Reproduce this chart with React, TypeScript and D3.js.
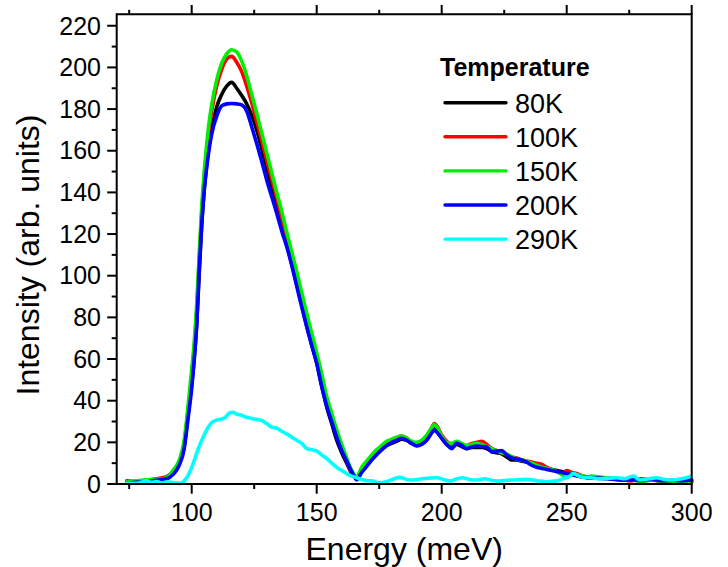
import React from "react";
import * as d3 from "d3";

const energy = [74, 78, 82, 86, 90, 92.5, 95, 97, 98.5, 100, 101, 102, 103, 104, 105, 106, 107, 108,
  110, 112, 114, 116, 118, 120, 122, 124, 126, 128, 130, 132, 134, 136, 138, 140, 142, 144, 146, 148, 150,
  152, 154, 156, 158, 160, 162, 164, 166, 168, 170, 172, 174, 176, 178, 180, 182, 184, 186, 188, 190, 192,
  194, 196, 197, 198, 200, 202, 204, 206, 208, 210, 212, 214, 216, 218, 220, 222, 224, 226, 228, 230, 232,
  234, 236, 238, 240, 242, 244, 246, 248, 250, 252, 254, 256, 258, 260, 264, 268, 272, 276, 280, 284, 288,
  292, 296, 300];

const k80 = [0.5, 1, 1.5, 2, 2.5, 5, 9.5, 18, 33, 48, 60, 77, 101, 124, 141, 153, 163, 170,
  181, 187, 191, 192.8, 190, 186.5, 182.5, 177, 170, 161, 151, 142, 133, 124, 115, 106, 96, 86, 76, 67, 58,
  47, 37, 29, 21, 15, 10, 5, 2.5, 6.5, 9.5, 12.5, 14.5, 16.5, 18.5, 19.5, 20.5, 21.5, 21, 19.5, 18.5, 19.5,
  21.5, 25, 26.5, 25.5, 22, 19, 17.5, 19, 18, 17, 17.5, 17.5, 17.5, 17, 15.5, 15, 14.5, 13, 11.5, 11.5, 11,
  10.5, 9.5, 9, 8, 7.5, 7, 6.5, 6, 5.5, 5, 4, 3.5, 3, 3, 3, 2.5, 2, 2, 1.5, 2, 1.5,
  1.5, 1, 1.2];

const k100 = [1.5, 1.2, 1.8, 2.5, 3.5, 6, 10.5, 19.5, 35, 52, 65, 83, 107, 130, 147, 160, 171, 179,
  191, 199, 204, 205.3, 202.5, 198, 191, 183, 174, 165, 155.5, 146.5, 137.5, 128, 118.5, 109, 99, 89, 79, 70, 61,
  50, 40, 32, 24, 17, 11, 5.5, 3, 7.5, 10.5, 13.5, 16, 18, 20, 21, 22, 23, 22, 20, 19.5, 20.5,
  23, 27, 29, 28, 23.5, 20.5, 19, 20, 19, 18.5, 19.5, 20, 20.5, 19, 17, 16, 15, 14, 13, 12.5, 11.5,
  11, 10.5, 10, 9.5, 8, 7, 6, 5, 6.5, 5.5, 5, 4, 3.5, 3.5, 3, 2.5, 2, 1.5, 2.5, 2, 1.5,
  1, 1.5, 1];

const k150 = [1, 1.5, 2, 2.2, 3, 6.5, 11.5, 21, 37, 55, 68, 86, 110, 133, 150, 163, 174, 182,
  194, 202, 206.5, 208.5, 207.5, 203, 196, 187, 178, 168.5, 159, 149.5, 140, 131, 121, 111.5, 102, 92, 82, 72.5, 63,
  53, 42, 34, 26, 19, 12.5, 6.5, 3.5, 8, 11, 14, 16.5, 18.5, 20.5, 21.5, 22.5, 23, 22, 20.5, 20, 21,
  23.5, 27, 28.5, 27.5, 23, 20, 19.5, 20.5, 19.5, 18.5, 19, 19.5, 19, 18, 17, 16, 15, 14.5, 13, 12, 11.5,
  10.8, 10, 9, 8, 7.5, 7, 6, 4.5, 3, 5, 4.5, 4, 3.5, 3.8, 3.2, 2.8, 2.5, 2, 1.5, 2, 1.5,
  1.5, 1, 1.5];

const k200 = [0.5, 0.8, 1.2, 1.8, 2.5, 4.5, 9, 17, 31, 46, 60, 76, 103, 125, 141, 152, 161, 168,
  176.5, 181.5, 182.5, 182.7, 182.5, 182, 179, 171.5, 163.5, 155, 146, 138, 130, 121.5, 114, 105, 95, 85, 75.5, 66.5, 58,
  47, 37.5, 30, 22.5, 16, 11, 6, 2, 5.5, 8.5, 11.5, 14, 16.5, 18.5, 20, 21, 22, 21, 19.5, 18.3, 19,
  21, 24.5, 26, 25, 22, 19, 17, 19.5, 18.5, 17, 17.8, 18.2, 18, 17.8, 15.5, 15.8, 16, 14, 12.5, 12, 11.5,
  10.5, 9, 8, 7.5, 7, 6.5, 6, 5.5, 5, 4.5, 4, 3.5, 3.2, 3, 2.7, 2.3, 2, 2, 1.8, 2.2, 1.6,
  1.8, 1.5, 2];

const energy290 = [74, 78, 82, 84, 86, 88, 90, 92, 94, 95.5, 97, 98.5, 100, 101.5, 103, 105, 106.7, 108, 110,
  112, 113.5, 115, 116.5, 118, 120, 122, 124, 126, 128, 130, 132, 134, 136, 138, 140, 142, 144, 146, 148, 150,
  152, 154, 156, 158, 160, 162, 164, 166, 168, 170, 172, 175, 178, 181, 183, 186, 189, 192, 195, 198, 201,
  203.5, 206, 208.5, 211, 214, 217, 220, 223, 226, 230, 234, 238, 242, 246, 249, 251, 252.7, 254.5, 256.7,
  260, 263, 266, 270, 273, 276.7, 279.3, 283, 286, 289, 292.7, 296, 299.3];

const k290 = [0.5, 0.3, 1.5, 0.8, 1.2, 0.5, 1, 0.8, 0.5, 0.3, 1.5, 4, 8, 13, 18, 23.5, 27.5, 29.5, 30.7,
  31.2, 32, 34, 34.4, 33.5, 33, 32, 31.5, 31, 30.5, 29, 27.3, 26.8, 25.3, 24, 22.5, 21, 19.5, 17, 16.5, 15.8,
  14, 12.3, 10, 8, 6.5, 5, 3.8, 3, 2.2, 1.6, 1.5, 0.6, 1.2, 2.5, 3.2, 2.2, 1.9, 2.5, 2.8, 3, 2,
  1.4, 2.5, 3, 2.2, 1.9, 2.5, 1.8, 1.4, 1.8, 2, 2.2, 1.6, 1.1, 1.5, 2.8, 3.5, 5, 4, 3.2,
  3, 2.5, 2.7, 3, 2.5, 3.8, 1.9, 2.5, 3, 2.2, 1.9, 2.5, 3.5];

const seriesNames = ["80K", "100K", "150K", "200K", "290K"];
const seriesColors = ["#000000", "#ff0000", "#00ee00", "#0000ff", "#00ffff"];

const xMajor = [100, 150, 200, 250, 300];
const xMinor = [75, 125, 175, 225, 275];
const yMajor = [0, 20, 40, 60, 80, 100, 120, 140, 160, 180, 200, 220];
const yMinor = [10, 30, 50, 70, 90, 110, 130, 150, 170, 190, 210];

const FONT = "'Liberation Sans', Arial, Helvetica, sans-serif";

export default function App() {
  const L = 116.7, R = 691.7, T = 14.3, B = 484;
  const x = d3.scaleLinear().domain([70, 300]).range([L, R]);
  const y = d3.scaleLinear().domain([0, 225.5]).range([B, T]);

  const data = [
    energy.map((e, i) => [e, k80[i]]),
    energy.map((e, i) => [e, k100[i]]),
    energy.map((e, i) => [e, k150[i]]),
    energy.map((e, i) => [e, k200[i]]),
    energy290.map((e, i) => [e, k290[i]]),
  ];

  const line = d3
    .line<number[]>()
    .x((d) => x(d[0]))
    .y((d) => y(d[1]))
    .curve(d3.curveMonotoneX);

  const legendRowY = (i: number) => 102.7 + i * 34.1;

  return (
    <svg width={728} height={567} style={{ position: "absolute", left: 0, top: 0, background: "#fff" }}>
      <rect x={0} y={0} width={728} height={567} fill="#fff" />
      {/* curves */}
      {data.map((d, i) => (
        <path key={i} d={line(d) || ""} fill="none" stroke={seriesColors[i]} strokeWidth={3.6}
          strokeLinejoin="round" strokeLinecap="round" />
      ))}

      {/* axes frame */}
      <g stroke="#000" strokeWidth={2} fill="none">
        <line x1={L} y1={B} x2={R} y2={B} />
        <line x1={L} y1={T} x2={R} y2={T} />
        <line x1={L} y1={T - 1} x2={L} y2={B + 1} />
        <line x1={R} y1={T - 1} x2={R} y2={B + 1} />
        {xMajor.map((v) => (
          <g key={"xm" + v}>
            <line x1={x(v)} y1={B} x2={x(v)} y2={B + 9.7} />
            <line x1={x(v)} y1={T} x2={x(v)} y2={T - 9.3} />
          </g>
        ))}
        {xMinor.map((v) => (
          <g key={"xn" + v}>
            <line x1={x(v)} y1={B} x2={x(v)} y2={B + 5} />
            <line x1={x(v)} y1={T} x2={x(v)} y2={T - 4.5} />
          </g>
        ))}
        {yMajor.map((v) => (
          <line key={"ym" + v} x1={L} y1={y(v)} x2={L - 9.5} y2={y(v)} />
        ))}
        {yMinor.map((v) => (
          <line key={"yn" + v} x1={L} y1={y(v)} x2={L - 5} y2={y(v)} />
        ))}
      </g>

      {/* tick labels */}
      <g fontFamily={FONT} fontSize={25} fill="#000">
        {xMajor.map((v) => (
          <text key={"xl" + v} x={x(v)} y={521} textAnchor="middle">{v}</text>
        ))}
        {yMajor.map((v) => (
          <text key={"yl" + v} x={101} y={y(v)} dy="0.35em" textAnchor="end">{v}</text>
        ))}
      </g>

      {/* axis titles */}
      <text x={(L + R) / 2} y={560} textAnchor="middle" fontFamily={FONT} fontSize={32}>Energy (meV)</text>
      <text transform={`translate(39,255) rotate(-90)`} textAnchor="middle" fontFamily={FONT} fontSize={32}>
        Intensity (arb. units)
      </text>

      {/* legend */}
      <text x={440} y={76} fontFamily={FONT} fontSize={25} fontWeight="bold">Temperature</text>
      {seriesNames.map((n, i) => (
        <g key={n}>
          <line x1={445} x2={506} y1={legendRowY(i)} y2={legendRowY(i)} stroke={seriesColors[i]}
            strokeWidth={3.4} strokeLinecap="round" />
          <text x={515} y={legendRowY(i) + 10} fontFamily={FONT} fontSize={27}>{n}</text>
        </g>
      ))}
    </svg>
  );
}
